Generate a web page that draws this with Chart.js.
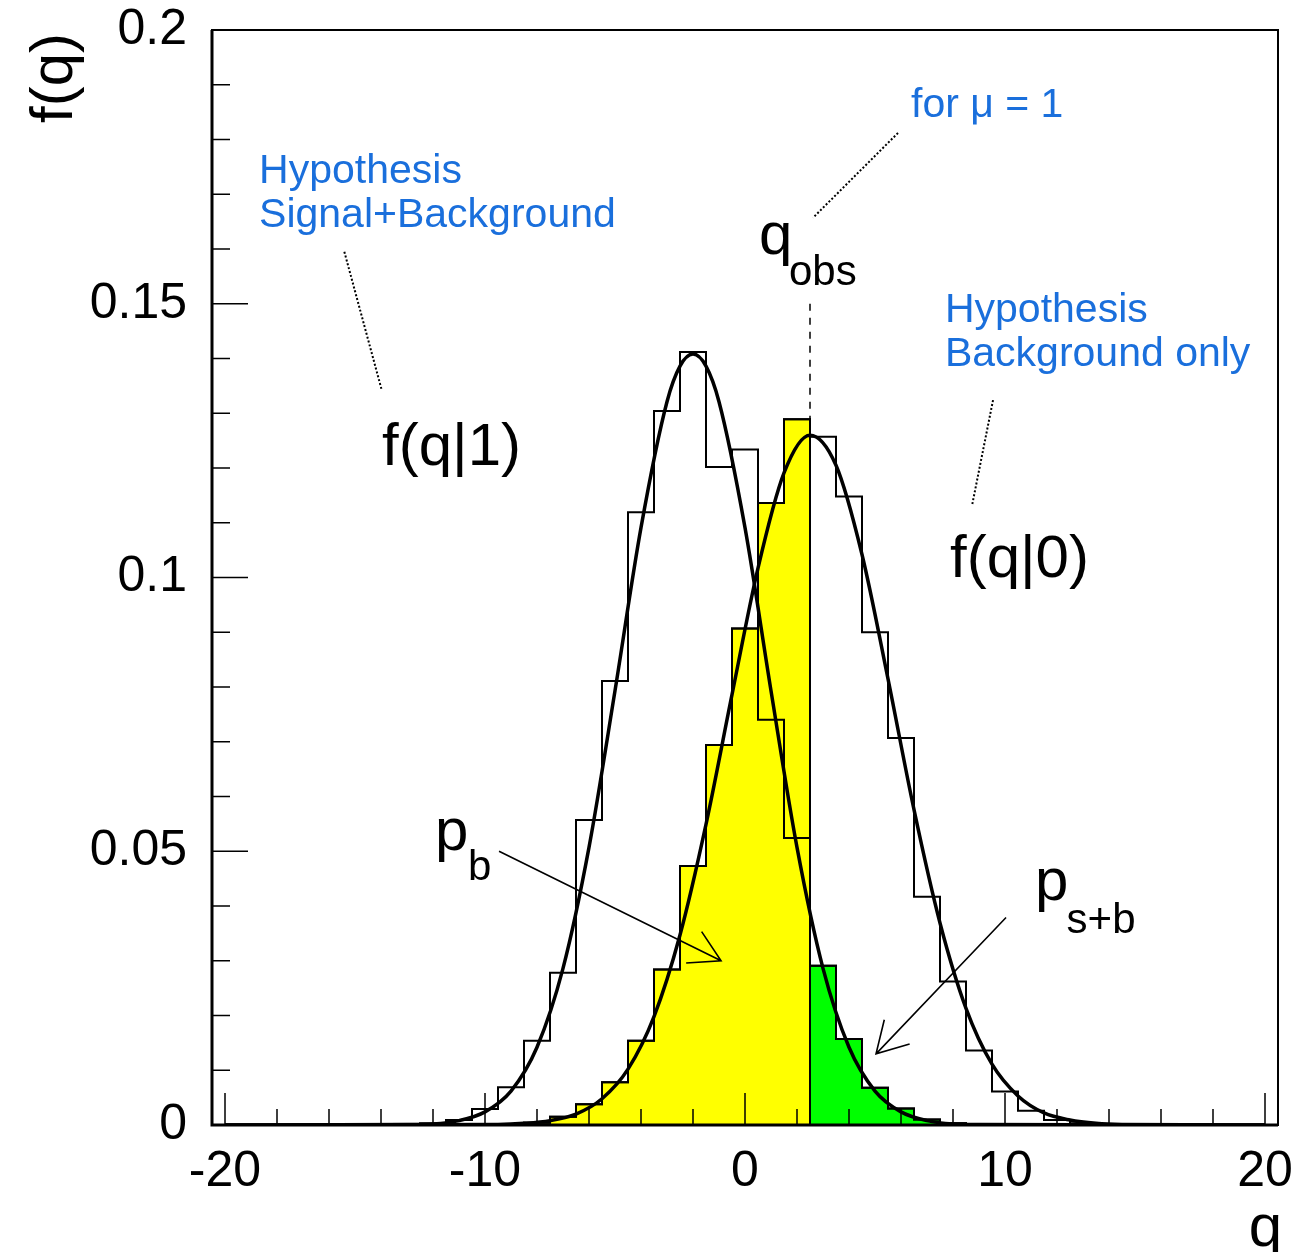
<!DOCTYPE html>
<html>
<head>
<meta charset="utf-8">
<script src="https://cdn.jsdelivr.net/npm/chart.js@4.4.1/dist/chart.umd.min.js"></script>
<style>
  html, body { margin: 0; padding: 0; background: #fff; }
  #wrap { width: 1314px; height: 1252px; }
</style>
</head>
<body>
<div id="wrap"><canvas id="qChart" width="1314" height="1252"></canvas></div>
<script>
// histogram bins (width 1, centred on integers)
const binCenters = [-20, -19, -18, -17, -16, -15, -14, -13, -12, -11, -10, -9, -8, -7, -6, -5, -4, -3, -2, -1, 0,
                    1, 2, 3, 4, 5, 6, 7, 8, 9, 10, 11, 12, 13, 14, 15, 16, 17, 18, 19, 20];
// f(q|1), signal+background toys
const sbCounts = [0, 0, 0, 0, 0, 0, 0, 0.0001, 0.0003, 0.0009, 0.0029, 0.0069, 0.0154, 0.0278, 0.0557, 0.0811, 0.1119, 0.1304, 0.1412, 0.1202, 0.1234,
                  0.0740, 0.0524, 0.0291, 0.0157, 0.0068, 0.0030, 0.0010, 0.0003, 0, 0, 0, 0, 0, 0, 0, 0, 0, 0, 0, 0];
// f(q|0), background only toys
const bCounts = [0, 0, 0, 0, 0, 0, 0, 0, 0, 0, 0, 0.0001, 0.0004, 0.0015, 0.0038, 0.0078, 0.0154, 0.0284, 0.0473, 0.0694, 0.0907,
                 0.1136, 0.1289, 0.1257, 0.1148, 0.0900, 0.0707, 0.0417, 0.0262, 0.0136, 0.0061, 0.0026, 0.0009, 0.0003, 0.0001, 0, 0, 0, 0, 0, 0];

// fitted curves
const sbFitQ = [-20, -13, -12, -11, -10, -9, -8, -7, -6, -5, -4, -3, -2.5, -2, -1.5, -1, 0, 1, 2, 3, 4, 5, 6, 7, 8, 9, 20];
const sbFitF = [0, 0.0001, 0.0002, 0.0008, 0.0024, 0.0062, 0.0142, 0.0286, 0.0507, 0.0793, 0.1091, 0.1321, 0.1386, 0.1408, 0.1386, 0.1321,
                0.1091, 0.0793, 0.0507, 0.0286, 0.0142, 0.0062, 0.0024, 0.0008, 0.0002, 0.0001, 0];
const bFitQ = [-20, -9.5, -8.5, -7.5, -6.5, -5.5, -4.5, -3.5, -2.5, -1.5, -0.5, 0.5, 1.5, 2.5, 3.5, 4.5, 5.5, 6.5, 7.5, 8.5, 9.5,
               10.5, 11.5, 12.5, 13.5, 14.5, 20];
const bFitF = [0, 0.0001, 0.0003, 0.0008, 0.0020, 0.0048, 0.0102, 0.0198, 0.0347, 0.0549, 0.0786, 0.1017, 0.1191, 0.1260, 0.1205, 0.1042,
               0.0815, 0.0576, 0.0369, 0.0213, 0.0111, 0.0053, 0.0022, 0.0009, 0.0003, 0.0001, 0];

const qObs = 2.5;
const qObsTop = 0.15;

const xTicks = [-20, -10, 0, 10, 20];
const yTicks = [0, 0.05, 0.1, 0.15, 0.2];
const yTickLabels = ['0', '0.05', '0.1', '0.15', '0.2'];

const FONT = "'Liberation Sans', Arial, Helvetica, sans-serif";
const BLUE = '#1a6fdc';
const binWidth = 1;

// outline of a histogram as stepped points at the bin edges
function histSteps(centers, values) {
  const pts = [{ x: centers[0] - binWidth / 2, y: 0 }];
  centers.forEach((c, i) => pts.push({ x: c - binWidth / 2, y: values[i] }));
  const last = centers.length - 1;
  pts.push({ x: centers[last] + binWidth / 2, y: values[last] });
  pts.push({ x: centers[last] + binWidth / 2, y: 0 });
  return pts;
}

const pbIdx = binCenters.map((c, i) => i).filter(i => binCenters[i] < qObs);
const psbIdx = binCenters.map((c, i) => i).filter(i => binCenters[i] > qObs);

// labels and pointers, in data coordinates
const notes = [
  { text: 'Hypothesis', q: -18.69, f: 0.1721, size: 41, color: BLUE },
  { text: 'Signal+Background', q: -18.69, f: 0.1640, size: 41, color: BLUE },
  { text: 'f(q|1)', q: -13.96, f: 0.1205, size: 60, color: '#000' },
  { text: 'for μ = 1', q: 6.385, f: 0.1841, size: 41, color: BLUE },
  { text: 'q', q: 0.54, f: 0.1591, size: 60, color: '#000' },
  { text: 'obs', q: 1.69, f: 0.1534, size: 42, color: '#000' },
  { text: 'Hypothesis', q: 7.69, f: 0.1467, size: 41, color: BLUE },
  { text: 'Background only', q: 7.69, f: 0.1386, size: 41, color: BLUE },
  { text: 'f(q|0)', q: 7.885, f: 0.1001, size: 60, color: '#000' },
  { text: 'p', q: -11.92, f: 0.0502, size: 60, color: '#000' },
  { text: 'b', q: -10.65, f: 0.0447, size: 42, color: '#000' },
  { text: 'p', q: 11.15, f: 0.0411, size: 60, color: '#000' },
  { text: 's+b', q: 12.37, f: 0.0351, size: 42, color: '#000' }
];
const dottedLinks = [
  [[-15.41, 0.1595], [-13.97, 0.1342]],
  [[5.885, 0.1812], [2.615, 0.1657]],
  [[9.54, 0.1324], [8.73, 0.1131]]
];
const arrows = [
  [[-9.46, 0.0500], [-0.92, 0.0300]],
  [[10.04, 0.0379], [5.04, 0.0130]]
];

const decorations = {
  id: 'decorations',
  afterDraw(chart) {
    const { ctx, chartArea: a, scales: { x, y } } = chart;
    const px = q => x.getPixelForValue(q);
    const py = v => y.getPixelForValue(v);
    ctx.save();

    // frame
    ctx.strokeStyle = '#000';
    ctx.lineWidth = 2;
    ctx.strokeRect(a.left, a.top, a.right - a.left, a.bottom - a.top);
    ctx.lineWidth = 3;
    ctx.beginPath();
    ctx.moveTo(a.left, a.top);
    ctx.lineTo(a.left, a.bottom);
    ctx.lineTo(a.right, a.bottom);
    ctx.stroke();

    // ticks, inside the frame
    ctx.lineWidth = 1.5;
    ctx.beginPath();
    for (let k = 0; k <= 20; k++) {
      const yy = py(k * 0.01);
      const len = k % 5 === 0 ? 36 : 18;
      ctx.moveTo(a.left, yy);
      ctx.lineTo(a.left + len, yy);
    }
    for (let k = -10; k <= 10; k++) {
      const xx = px(k * 2);
      const len = k % 5 === 0 ? 32 : 16;
      ctx.moveTo(xx, a.bottom);
      ctx.lineTo(xx, a.bottom - len);
    }
    ctx.stroke();

    // axis titles
    ctx.fillStyle = '#000';
    ctx.font = '60px ' + FONT;
    ctx.textBaseline = 'alphabetic';
    ctx.textAlign = 'right';
    ctx.fillText('q', a.right + 4, 1246);
    ctx.save();
    ctx.translate(a.left - 140, a.top + 93);
    ctx.rotate(-Math.PI / 2);
    ctx.textAlign = 'left';
    ctx.fillText('f(q)', 0, 0);
    ctx.restore();

    // texts
    ctx.textAlign = 'left';
    notes.forEach(n => {
      ctx.font = n.size + 'px ' + FONT;
      ctx.fillStyle = n.color;
      ctx.fillText(n.text, px(n.q), py(n.f));
    });

    // dotted pointers
    ctx.strokeStyle = '#000';
    ctx.lineWidth = 2;
    ctx.setLineDash([2, 2]);
    dottedLinks.forEach(([p0, p1]) => {
      ctx.beginPath();
      ctx.moveTo(px(p0[0]), py(p0[1]));
      ctx.lineTo(px(p1[0]), py(p1[1]));
      ctx.stroke();
    });
    ctx.setLineDash([]);

    // arrows with open heads
    ctx.lineWidth = 1.6;
    arrows.forEach(([p0, p1]) => {
      const x0 = px(p0[0]), y0 = py(p0[1]), x1 = px(p1[0]), y1 = py(p1[1]);
      const ang = Math.atan2(y0 - y1, x0 - x1);
      const head = 35, spread = Math.PI / 6;
      ctx.beginPath();
      ctx.moveTo(x0, y0);
      ctx.lineTo(x1, y1);
      ctx.moveTo(x1 + head * Math.cos(ang + spread), y1 + head * Math.sin(ang + spread));
      ctx.lineTo(x1, y1);
      ctx.lineTo(x1 + head * Math.cos(ang - spread), y1 + head * Math.sin(ang - spread));
      ctx.stroke();
    });

    ctx.restore();
  }
};

// keep the plot frame exactly where the reference has it
function fixBox(s, size) {
  if (s.isHorizontal()) s.height = size; else s.width = size;
  s.paddingTop = 0;
  s.paddingBottom = 0;
  s.paddingLeft = 0;
  s.paddingRight = 0;
}

new Chart(document.getElementById('qChart'), {
  type: 'scatter',
  data: {
    datasets: [
      {
        label: 'p_b',
        data: histSteps(pbIdx.map(i => binCenters[i]), pbIdx.map(i => bCounts[i])),
        showLine: true, stepped: 'before', fill: 'origin',
        backgroundColor: '#ffff00', borderColor: '#000', borderWidth: 2,
        pointRadius: 0, order: 10
      },
      {
        label: 'p_s+b',
        data: histSteps(psbIdx.map(i => binCenters[i]), psbIdx.map(i => sbCounts[i])),
        showLine: true, stepped: 'before', fill: 'origin',
        backgroundColor: '#00ff00', borderColor: '#000', borderWidth: 2,
        pointRadius: 0, order: 10
      },
      {
        label: 'f(q|1) toys',
        data: histSteps(binCenters, sbCounts),
        showLine: true, stepped: 'before', fill: false,
        borderColor: '#000', borderWidth: 2, pointRadius: 0, order: 5
      },
      {
        label: 'f(q|0) toys',
        data: histSteps(binCenters, bCounts),
        showLine: true, stepped: 'before', fill: false,
        borderColor: '#000', borderWidth: 2, pointRadius: 0, order: 5
      },
      {
        label: 'f(q|1) fit',
        data: sbFitQ.map((q, i) => ({ x: q, y: sbFitF[i] })),
        showLine: true, cubicInterpolationMode: 'monotone', fill: false,
        borderColor: '#000', borderWidth: 3.5, pointRadius: 0, order: 3
      },
      {
        label: 'f(q|0) fit',
        data: bFitQ.map((q, i) => ({ x: q, y: bFitF[i] })),
        showLine: true, cubicInterpolationMode: 'monotone', fill: false,
        borderColor: '#000', borderWidth: 3.5, pointRadius: 0, order: 3
      },
      {
        label: 'q_obs',
        data: [{ x: qObs, y: qObsTop }, { x: qObs, y: 0 }],
        showLine: true, fill: false, borderDash: [7, 7],
        borderColor: '#000', borderWidth: 1.5, pointRadius: 0, order: 1
      }
    ]
  },
  options: {
    responsive: false,
    animation: false,
    events: [],
    layout: { padding: { top: 30, right: 36, left: 0, bottom: 0 } },
    plugins: { legend: { display: false }, tooltip: { enabled: false } },
    scales: {
      x: {
        type: 'linear', min: -20.5, max: 20.5,
        grid: { display: false, drawTicks: false },
        border: { display: false },
        afterBuildTicks: s => { s.ticks = xTicks.map(v => ({ value: v })); },
        afterFit: s => fixBox(s, 127),
        ticks: {
          font: { family: FONT, size: 50 }, color: '#000', padding: 17,
          maxRotation: 0, autoSkip: false, callback: v => String(v)
        }
      },
      y: {
        type: 'linear', min: 0, max: 0.2,
        grid: { display: false, drawTicks: false },
        border: { display: false },
        afterBuildTicks: s => { s.ticks = yTicks.map(v => ({ value: v })); },
        afterFit: s => fixBox(s, 212),
        ticks: {
          font: { family: FONT, size: 50 }, color: '#000', padding: 25,
          autoSkip: false, callback: v => yTickLabels[yTicks.indexOf(v)]
        }
      }
    }
  },
  plugins: [decorations]
});
</script>
</body>
</html>
